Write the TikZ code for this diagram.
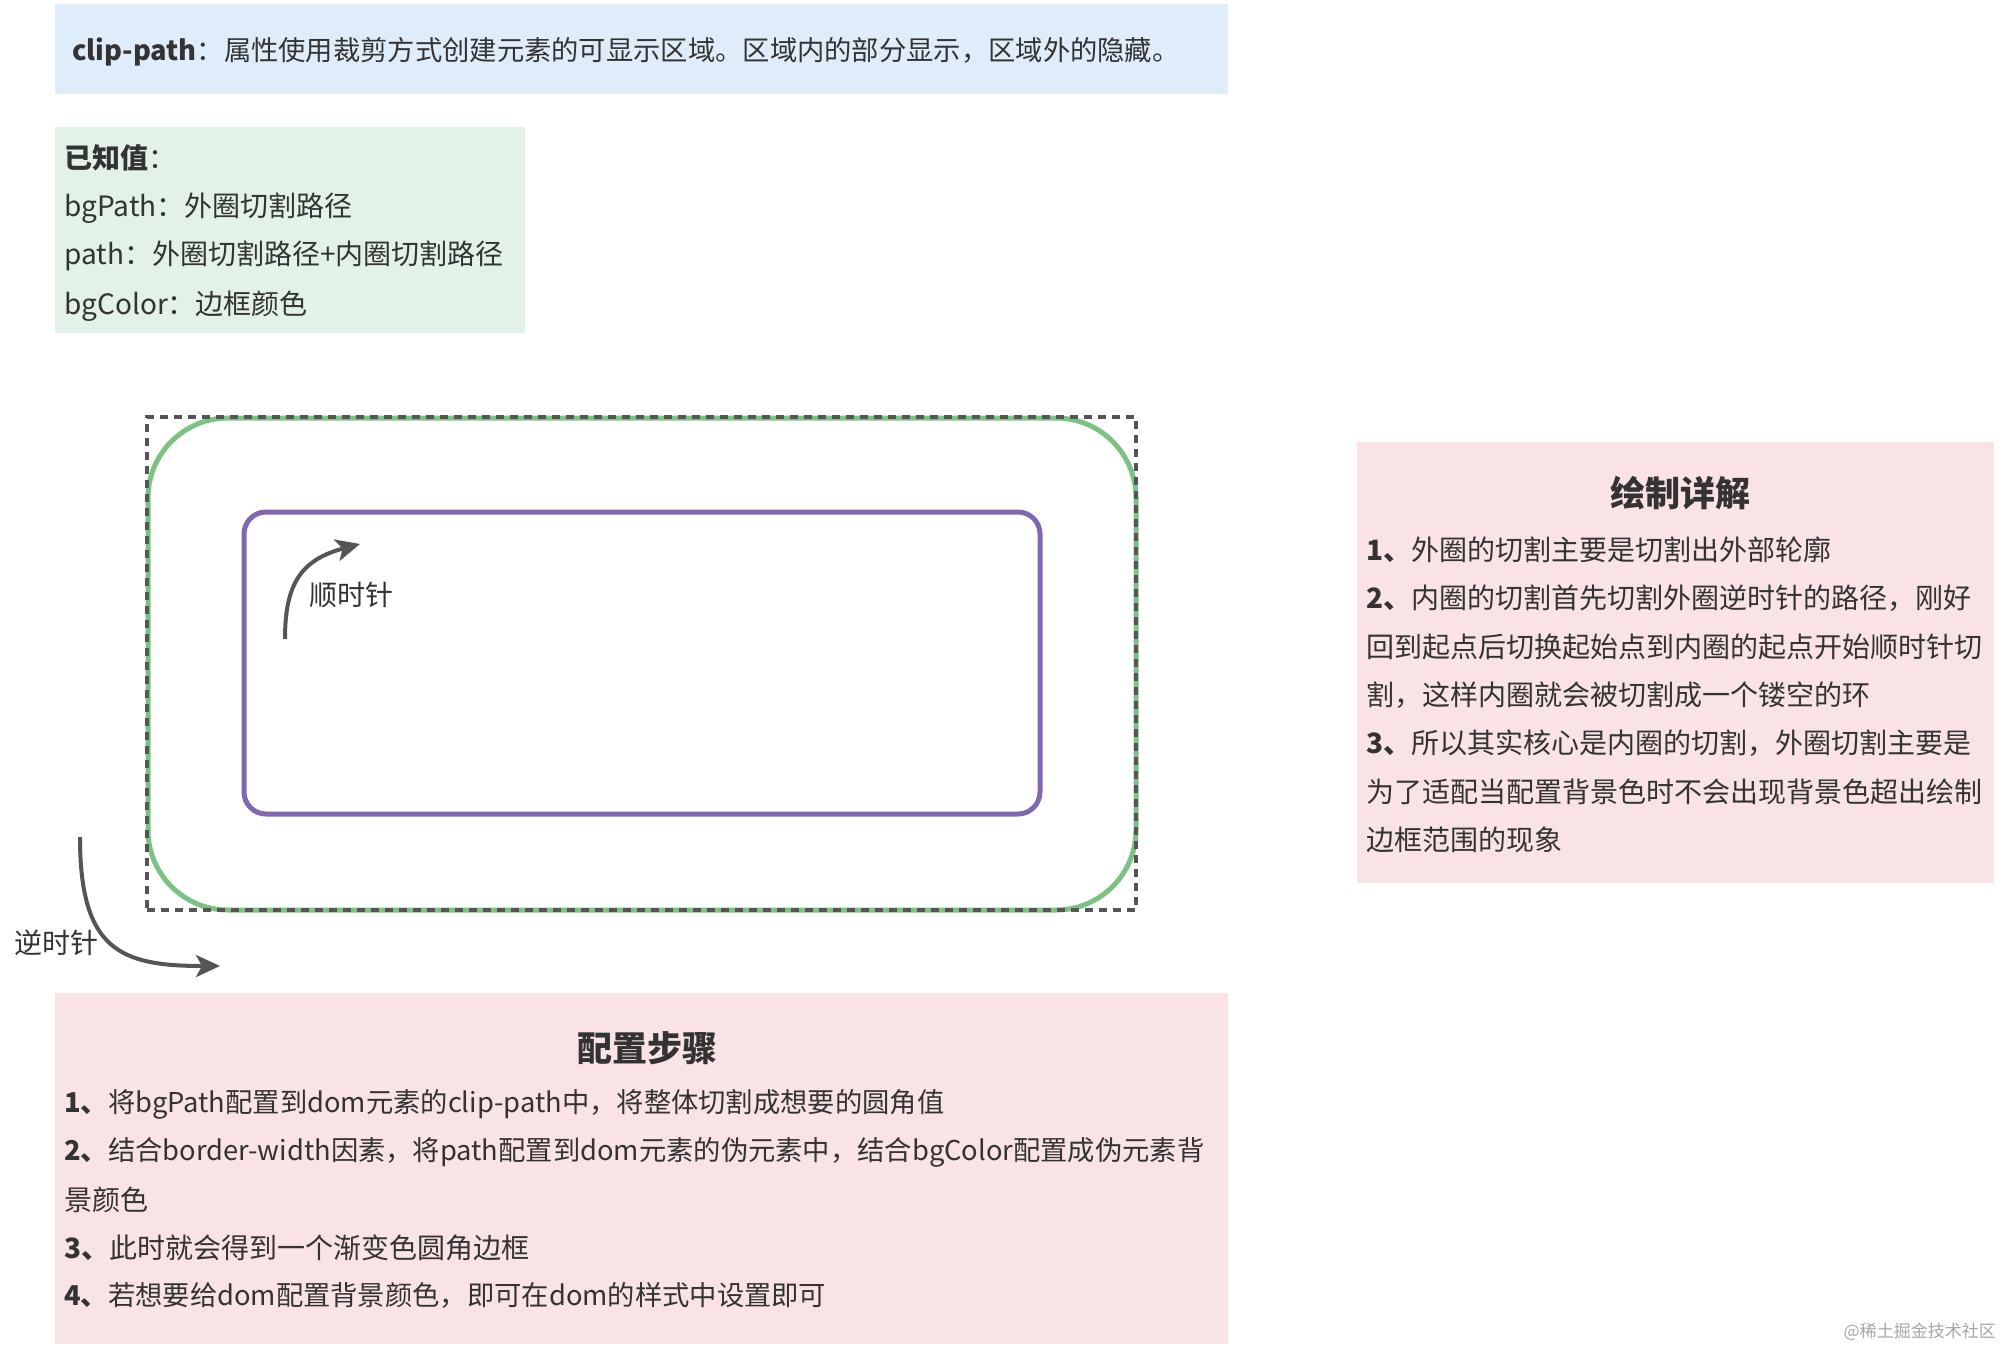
\documentclass[tikz,border=0pt]{standalone}
\usepackage{fontspec}
\setmainfont{Noto Sans CJK SC}
\usetikzlibrary{arrows.meta}
\definecolor{txt}{HTML}{333333}
\definecolor{bluefill}{HTML}{DFEDFA}
\definecolor{greenfill}{HTML}{E2F2E6}
\definecolor{pinkfill}{HTML}{F9E3E4}
\definecolor{greenline}{HTML}{7DC283}
\definecolor{purpleline}{HTML}{7E68B0}
\definecolor{arrowgray}{HTML}{555555}
\tikzset{
  panel/.style={anchor=north west, inner sep=0pt, outer sep=0pt},
  body/.style={font=\fontsize{28pt}{34pt}\selectfont, text=txt, inner sep=0pt, anchor=base west},
  bodytight/.style={body, font=\fontsize{27.3pt}{34pt}\selectfont},
  heading/.style={font=\fontsize{35pt}{40pt}\selectfont\bfseries, text=txt, inner sep=0pt, anchor=base},
  curvearrow/.style={draw=arrowgray, line width=4pt, -{Stealth[length=24pt,width=22pt,inset=6pt]}},
}
\begin{document}
\begin{tikzpicture}[x=1pt,y=-1pt]
\useasboundingbox (0,0) rectangle (2004,1348);
\fill[white] (0,0) rectangle (2004,1348);

% top intro panel
\node[panel, fill=bluefill, minimum width=1173pt, minimum height=90pt] (intro) at (55,4) {};
\node[bodytight] (introtext) at (72,61) {\textbf{clip-path}：属性使用裁剪方式创建元素的可显示区域。区域内的部分显示，区域外的隐藏。};

% known values panel
\node[panel, fill=greenfill, minimum width=470pt, minimum height=206pt] (known) at (55,127) {};
\node[body] (k0) at (64,169) {\textbf{已知值}：};
\node[body] (k1) at (64,217) {bgPath：外圈切割路径};
\node[body] (k2) at (64,265) {path：外圈切割路径+内圈切割路径};
\node[body] (k3) at (64,314) {bgColor：边框颜色};

% diagram
\node[panel, draw=greenline, line width=5pt, rounded corners=80pt, minimum width=988pt, minimum height=492pt] (outer) at (148,418) {};
\node[panel, draw=arrowgray, line width=3.5pt, dash pattern=on 8pt off 6pt, minimum width=989pt, minimum height=493pt] (dashbox) at (147,417) {};
\node[panel, draw=purpleline, line width=5pt, rounded corners=22pt, minimum width=796pt, minimum height=302pt] (inner) at (244,512) {};

% clockwise arrow
\coordinate (cwS) at (285,639);
\coordinate (cwE) at (360,544);
\draw[curvearrow] (cwS) .. controls (285,585) and (300,560) .. (cwE);
\node[font=\fontsize{28pt}{34pt}\selectfont, text=txt, inner sep=0pt, anchor=base] (cwlabel) at (351,605) {顺时针};

% counter-clockwise arrow
\coordinate (ccwS) at (80,837);
\coordinate (ccwE) at (220,966);
\draw[curvearrow] (ccwS) .. controls (80,950) and (120,966) .. (ccwE);
\node[font=\fontsize{28pt}{34pt}\selectfont, text=txt, inner sep=0pt, anchor=base] (ccwlabel) at (56,953) {逆时针};

% right panel
\node[panel, fill=pinkfill, minimum width=637pt, minimum height=441pt] (detail) at (1357,442) {};
\node[heading] (dtitle) at (1680,506) {绘制详解};
\node[body] (d1) at (1366,560) {\textbf{1、}外圈的切割主要是切割出外部轮廓};
\node[body] (d2) at (1366,608) {\textbf{2、}内圈的切割首先切割外圈逆时针的路径，刚好};
\node[body] (d3) at (1366,657) {回到起点后切换起始点到内圈的起点开始顺时针切};
\node[body] (d4) at (1366,705) {割，这样内圈就会被切割成一个镂空的环};
\node[body] (d5) at (1366,753) {\textbf{3、}所以其实核心是内圈的切割，外圈切割主要是};
\node[body] (d6) at (1366,802) {为了适配当配置背景色时不会出现背景色超出绘制};
\node[body] (d7) at (1366,850) {边框范围的现象};

% bottom panel
\node[panel, fill=pinkfill, minimum width=1173pt, minimum height=351pt] (steps) at (55,993) {};
\node[heading] (stitle) at (647,1061) {配置步骤};
\node[bodytight] (s1) at (64,1112) {\textbf{1、}将bgPath配置到dom元素的clip-path中，将整体切割成想要的圆角值};
\node[bodytight] (s2) at (64,1160) {\textbf{2、}结合border-width因素，将path配置到dom元素的伪元素中，结合bgColor配置成伪元素背};
\node[body] (s3) at (64,1210) {景颜色};
\node[body] (s4) at (64,1258) {\textbf{3、}此时就会得到一个渐变色圆角边框};
\node[bodytight] (s5) at (64,1305) {\textbf{4、}若想要给dom配置背景颜色，即可在dom的样式中设置即可};

% watermark
\node[font=\fontsize{17pt}{20pt}\selectfont, text=black!35, inner sep=0pt, anchor=base east] (wm) at (1996,1337) {@稀土掘金技术社区};
\end{tikzpicture}
\end{document}
